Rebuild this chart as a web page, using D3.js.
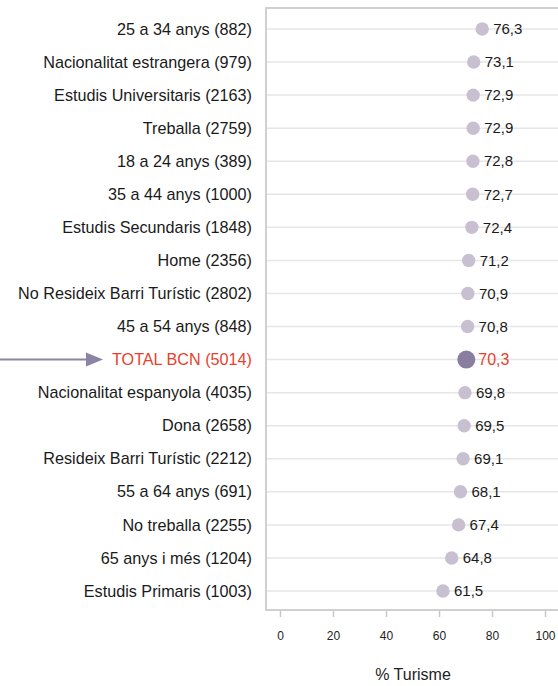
<!DOCTYPE html>
<html>
<head>
<meta charset="utf-8">
<script src="https://cdn.jsdelivr.net/npm/d3@7"></script>
<style>
  body { margin: 0; background: #fff; }
  text { font-family: "Liberation Sans", Arial, sans-serif; }
</style>
</head>
<body>
<script>
// Chart data
const categories = [
  "25 a 34 anys (882)", "Nacionalitat estrangera (979)", "Estudis Universitaris (2163)",
  "Treballa (2759)", "18 a 24 anys (389)", "35 a 44 anys (1000)",
  "Estudis Secundaris (1848)", "Home (2356)", "No Resideix Barri Turístic (2802)",
  "45 a 54 anys (848)", "TOTAL BCN (5014)", "Nacionalitat espanyola (4035)",
  "Dona (2658)", "Resideix Barri Turístic (2212)", "55 a 64 anys (691)",
  "No treballa (2255)", "65 anys i més (1204)", "Estudis Primaris (1003)"
];
const values = [76.3, 73.1, 72.9, 72.9, 72.8, 72.7, 72.4, 71.2, 70.9, 70.8, 70.3, 69.8, 69.5, 69.1, 68.1, 67.4, 64.8, 61.5];
const xTicks = [0, 20, 40, 60, 80, 100];
const highlight = "TOTAL BCN (5014)";

const width = 558, height = 686;
const svg = d3.select("body").append("svg")
  .attr("width", width)
  .attr("height", height);

const x = d3.scaleLinear().domain([0, 100]).range([280, 545]);
const y = d3.scalePoint().domain(categories).range([29, 591]);

const fmt = v => d3.format(".1f")(v).replace(".", ",");

// panel frame
svg.append("rect")
  .attr("x", 266).attr("y", 8)
  .attr("width", 320).attr("height", 602)
  .attr("fill", "none")
  .attr("stroke", "#d0d0d0")
  .attr("stroke-width", 2);

// horizontal grid lines
svg.selectAll(".grid")
  .data(categories)
  .enter().append("line")
  .attr("class", "grid")
  .attr("x1", 267).attr("x2", width)
  .attr("y1", d => y(d)).attr("y2", d => y(d))
  .attr("stroke", "#e6e6e6")
  .attr("stroke-width", 1.5);

// x axis
const xAxis = svg.append("g")
  .attr("transform", "translate(0, 611)")
  .call(d3.axisBottom(x).tickValues(xTicks).tickSize(6).tickPadding(14));
xAxis.select(".domain").remove();
xAxis.selectAll("line").attr("stroke", "#c8c8c8").attr("stroke-width", 1.5);
xAxis.selectAll("text")
  .style("font-size", "12px")
  .attr("fill", "#222");

svg.append("text")
  .attr("x", 413).attr("y", 680)
  .attr("text-anchor", "middle")
  .style("font-size", "16px")
  .attr("fill", "#222")
  .text("% Turisme");

// category labels
svg.selectAll(".cat")
  .data(categories)
  .enter().append("text")
  .attr("class", "cat")
  .attr("x", 252)
  .attr("y", d => y(d))
  .attr("dy", "0.35em")
  .attr("text-anchor", "end")
  .style("font-size", "16.2px")
  .attr("fill", d => d === highlight ? "#e8412c" : "#1a1a1a")
  .text(d => d);

// dots
svg.selectAll(".dot")
  .data(categories)
  .enter().append("circle")
  .attr("class", "dot")
  .attr("cx", (d, i) => x(values[i]))
  .attr("cy", d => y(d))
  .attr("r", d => d === highlight ? 9 : 6.7)
  .attr("fill", d => d === highlight ? "#8a7ea0" : "#c8c0d0");

// value labels
svg.selectAll(".val")
  .data(categories)
  .enter().append("text")
  .attr("class", "val")
  .attr("x", (d, i) => x(values[i]) + (d === highlight ? 12 : 11))
  .attr("y", d => y(d))
  .attr("dy", "0.35em")
  .style("font-size", d => d === highlight ? "16px" : "15px")
  .attr("fill", d => d === highlight ? "#e8412c" : "#1a1a1a")
  .text((d, i) => fmt(values[i]));

// arrow pointing at the total row
const ay = y(highlight);
svg.append("line")
  .attr("x1", 0).attr("x2", 90)
  .attr("y1", ay).attr("y2", ay)
  .attr("stroke", "#8c84a3")
  .attr("stroke-width", 2);
svg.append("path")
  .attr("d", `M86,${ay - 7} L103,${ay} L86,${ay + 7} Z`)
  .attr("fill", "#8c84a3");
</script>
</body>
</html>
